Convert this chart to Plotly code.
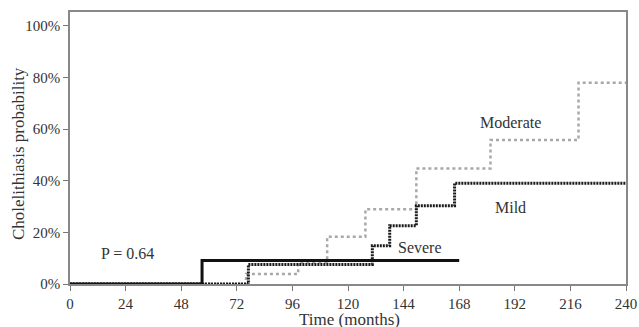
import plotly.graph_objects as go

# Data (months, probability %)
severe_t = [0, 57, 168]
severe_p = [0, 9.1, 9.1]
mild_t = [0, 77, 130.5, 138, 149.5, 166, 240]
mild_p = [0, 7.6, 14.8, 22.6, 30.3, 39, 39]
moderate_t = [0, 76, 98.5, 111, 127.5, 149.5, 181.5, 219.5, 240]
moderate_p = [0, 3.9, 8.4, 18.3, 29, 44.8, 55.8, 78, 78]

x_ticks = [0, 24, 48, 72, 96, 120, 144, 168, 192, 216, 240]
y_ticks = [0, 20, 40, 60, 80, 100]
y_labels = ["0%", "20%", "40%", "60%", "80%", "100%"]

font = "Liberation Serif, Times New Roman, serif"

fig = go.Figure()
fig.add_trace(go.Scatter(x=moderate_t, y=moderate_p, mode="lines", line_shape="hv",
                         line=dict(color="#a8a8a8", width=2.5, dash="3px,3px"), name="Moderate"))
fig.add_trace(go.Scatter(x=mild_t, y=mild_p, mode="lines", line_shape="hv",
                         line=dict(color="#1a1a1a", width=3, dash="2px,1px"), name="Mild"))
fig.add_trace(go.Scatter(x=severe_t, y=severe_p, mode="lines", line_shape="hv",
                         line=dict(color="#111111", width=3), name="Severe"))

ann_style = dict(showarrow=False, font=dict(family=font, size=16, color="#333"))
fig.add_annotation(x=25, y=12, text="P = 0.64", **ann_style)
fig.add_annotation(x=151, y=14.2, text="Severe", **ann_style)
fig.add_annotation(x=190, y=62.5, text="Moderate", **ann_style)
fig.add_annotation(x=190, y=29.7, text="Mild", **ann_style)

# Axis titles
fig.add_annotation(xref="paper", yref="paper", x=0.503, y=0, yanchor="top", yshift=-24,
                   text="Time (months)", showarrow=False,
                   font=dict(family=font, size=17, color="#333"))
fig.add_annotation(xref="paper", yref="paper", x=0, y=0.478, xanchor="center", xshift=-51,
                   text="Cholelithiasis probability", textangle=-90, showarrow=False,
                   font=dict(family=font, size=17, color="#333"))

fig.update_layout(
    width=639, height=327,
    margin=dict(l=70, r=13, t=12, b=43),
    paper_bgcolor="white", plot_bgcolor="white",
    showlegend=False,
    font=dict(family=font, size=15, color="#333"),
)
fig.update_xaxes(range=[0, 240], tickvals=x_ticks, ticks="outside", ticklen=5,
                 tickcolor="#777", showline=True, linecolor="#888", linewidth=1.5,
                 mirror=True, showgrid=False, zeroline=False, automargin=False)
fig.update_yaxes(range=[0, 105.4], tickvals=y_ticks, ticktext=y_labels, ticks="outside",
                 ticklen=5, tickcolor="#777", showline=True, linecolor="#888", linewidth=1.5,
                 mirror=True, showgrid=False, zeroline=False, automargin=False)

fig.write_html("out.html", config={"displayModeBar": False},
               post_script="document.body.style.margin='0';document.body.style.overflow='hidden';")
